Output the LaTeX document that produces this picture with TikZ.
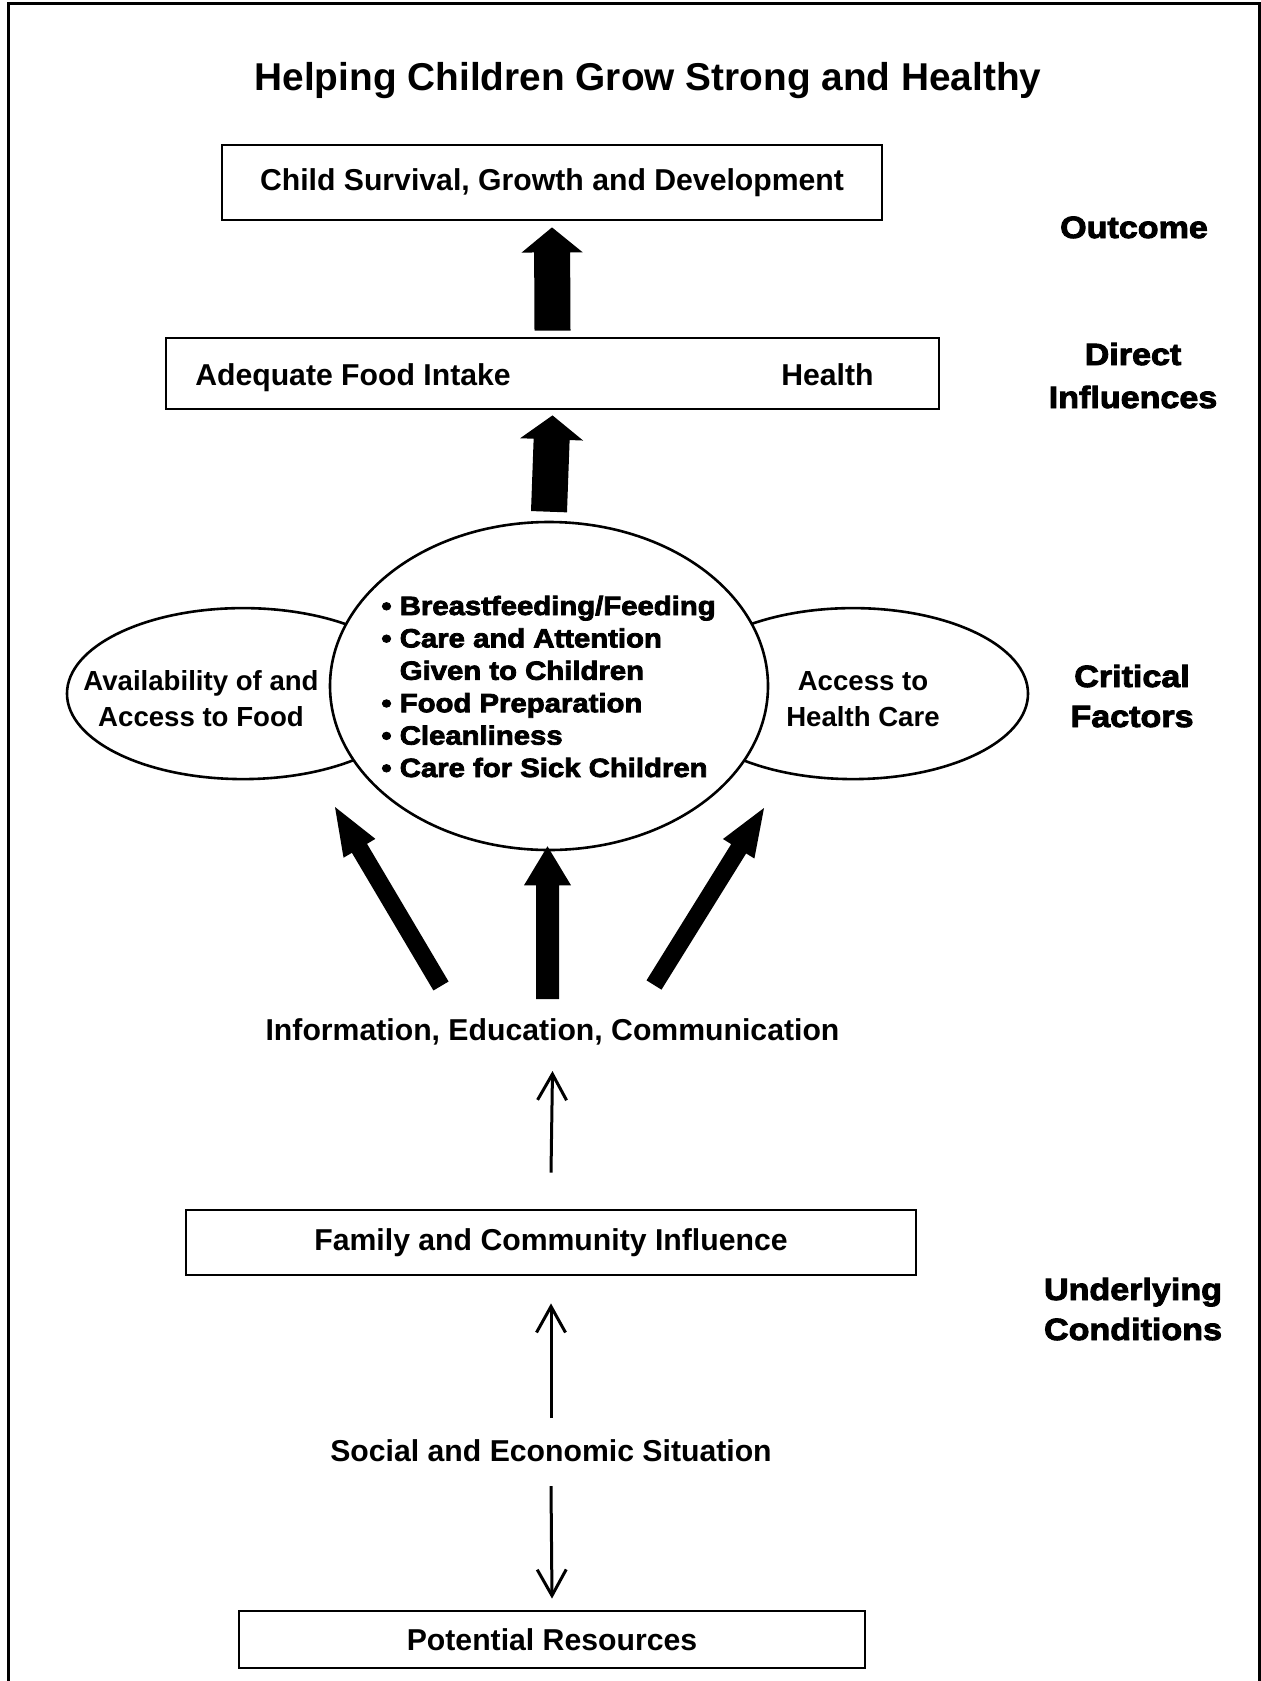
\documentclass[tikz,border=0pt]{standalone}
\usepackage{fontspec}
\setmainfont{Liberation Sans}
\newfontfamily\heavyfont{Liberation Sans}[UprightFont=* Bold, FakeStretch=1.11, FakeBold=3]
\usetikzlibrary{calc,arrows.meta,shapes.geometric}
\newcommand\twolines[1]{\begin{tabular}[t]{@{}c@{}}#1\end{tabular}}
% solid block arrow from tail #1 to tip #2: shaft half width #3,
% head half width #4, head length #5
\newcommand\fatarrow[5]{%
  \coordinate (fa-neck) at ($(#2)!#5!(#1)$);
  \fill ($(#1)!#3!90:(#2)$) -- ($(fa-neck)!#3!90:(#2)$) -- ($(fa-neck)!#4!90:(#2)$)
    -- (#2) -- ($(fa-neck)!#4!-90:(#2)$) -- ($(fa-neck)!#3!-90:(#2)$)
    -- ($(#1)!#3!-90:(#2)$) -- cycle;
}
\begin{document}
\begin{tikzpicture}[x=0.5pt,y=-0.5pt,
  box/.style={draw, line width=1.4pt, inner sep=0pt, fill=white,
    font=\bfseries\fontsize{15.1pt}{18pt}\selectfont},
  bodytext/.style={font=\bfseries\fontsize{15.1pt}{18pt}\selectfont, inner sep=0pt, anchor=base},
  ovaltext/.style={font=\bfseries\fontsize{13.8pt}{18.3pt}\selectfont, inner sep=0pt, anchor=base},
  sidelabel/.style={font=\heavyfont\fontsize{15.35pt}{20pt}\selectfont, inner sep=0pt, anchor=base},
  oval/.style={ellipse, draw, line width=1.3pt, fill=white, inner sep=0pt},
  thinarrow/.style={line width=1.5pt, -{Straight Barb[length=13pt, width=14.5pt]}}
]
\useasboundingbox (0,0) rectangle (1261,1681);

% outer frame
\draw[line width=1.35pt] (8.7,1681) -- (8.7,3.7) -- (1259.7,3.7) -- (1259.7,1681);

% title
\node[anchor=base, inner sep=0pt, font=\bfseries\fontsize{19.4pt}{23pt}\selectfont]
  (title) at (648,90) {Helping Children Grow Strong and Healthy};

% outcome and direct influences
\node[box, minimum width=330pt, minimum height=37.5pt] (outcome) at (552,182.5)
  {Child Survival, Growth and Development};
\node[box, minimum width=386.5pt, minimum height=35.5pt] (direct) at (552.5,373.5) {};
\node[bodytext] (food) at (353,385) {Adequate Food Intake};
\node[bodytext] (health) at (827.5,385) {Health};

% critical factors
\node[oval, minimum width=176pt, minimum height=85.5pt] (left) at (243,693.6) {};
\node[oval, minimum width=175pt, minimum height=85.5pt] (right) at (853,693.6) {};
\node[oval, minimum width=219pt, minimum height=164pt] (mid) at (549,686) {};
\node[ovaltext] (lefttext) at (201,690) {\twolines{Availability of and\\Access to Food}};
\node[ovaltext] (righttext) at (863,690) {\twolines{Access to\\Health Care}};
\node[anchor=base west, inner sep=0pt, font=\heavyfont\fontsize{13.2pt}{16.2pt}\selectfont]
  (care) at (381,615) {\begin{tabular}[t]{@{}l@{}}
  •\ Breastfeeding/Feeding\\
  •\ Care and Attention\\
  \hphantom{•\ }Given to Children\\
  •\ Food Preparation\\
  •\ Cleanliness\\
  •\ Care for Sick Children
  \end{tabular}};

% underlying conditions
\node[bodytext] (info) at (552.5,1040) {Information, Education, Communication};
\node[box, minimum width=365pt, minimum height=32.5pt] (family) at (551,1242.5)
  {Family and Community Influence};
\node[bodytext] (social) at (551,1461) {Social and Economic Situation};
\node[box, minimum width=313pt, minimum height=28.5pt] (resources) at (552,1639.5)
  {Potential Resources};

% level labels
\node[sidelabel] (lblout) at (1134,238) {Outcome};
\node[sidelabel, font=\heavyfont\fontsize{15.35pt}{21.5pt}\selectfont] (lbldir) at (1133,365)
  {\twolines{Direct\\Influences}};
\node[sidelabel] (lblcrit) at (1132,687) {\twolines{Critical\\Factors}};
\node[sidelabel] (lblund) at (1133,1300) {\twolines{Underlying\\Conditions}};

% heavy arrows
\coordinate (a1tail) at ([yshift=3pt]direct.north);
\coordinate (a1tip) at ([yshift=-3pt]outcome.south);
\fatarrow{a1tail}{a1tip}{9pt}{15.25pt}{12.5pt}
\coordinate (a2tail) at ([yshift=4.5pt]mid.north);
\coordinate (a2tip) at ([yshift=-2.5pt]direct.south);
\fatarrow{a2tail}{a2tip}{9pt}{15.75pt}{12pt}
\coordinate (a3tail) at ([xshift=-2.5pt,yshift=20.5pt]info.base);
\coordinate (a3tip) at ([xshift=-0.75pt,yshift=2.5pt]mid.south);
\fatarrow{a3tail}{a3tip}{5.75pt}{11.75pt}{19.5pt}
\coordinate (ltail) at (441,986);
\coordinate (lhead) at (335,807);
\coordinate (rtail) at (654,985);
\coordinate (rhead) at (764,808);
\fatarrow{ltail}{lhead}{4.4pt}{9.25pt}{24pt}
\fatarrow{rtail}{rhead}{4.4pt}{9.25pt}{24pt}

% thin arrows
\draw[thinarrow] ([yshift=18pt]family.north) -- ([yshift=-15.5pt]info.base);
\draw[thinarrow] ([yshift=21.5pt]social.base) -- ([yshift=-13.5pt]family.south);
\draw[thinarrow] ([yshift=-12.5pt]social.base) -- ([yshift=5.5pt]resources.north);
\end{tikzpicture}
\end{document}
